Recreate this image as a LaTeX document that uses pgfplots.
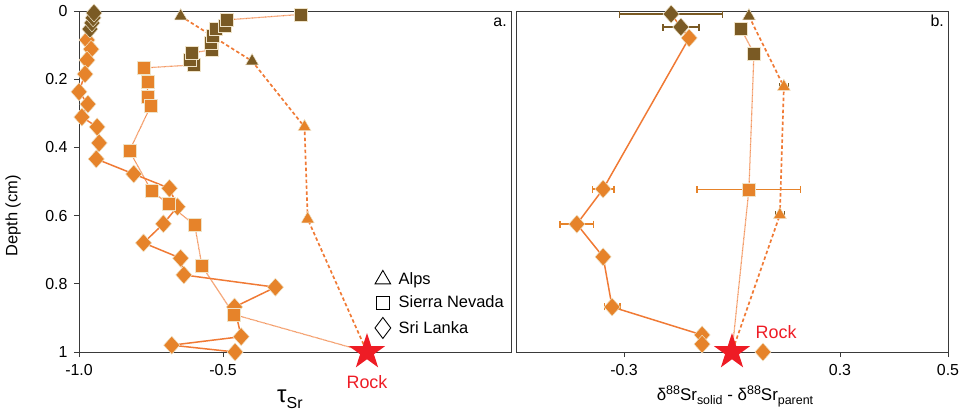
\documentclass[border=0pt]{standalone}
\usepackage{pgfplots}
\pgfplotsset{compat=1.18}
\usepackage{fontspec}
\setmainfont{Liberation Sans}
\definecolor{brn}{HTML}{7A5A24}
\definecolor{org}{HTML}{E6832A}
\definecolor{lin}{HTML}{F07A35}
\definecolor{edge}{HTML}{EFE3C8}
\definecolor{rockred}{HTML}{EE1C25}
\definecolor{axc}{HTML}{3A3A3A}
\pgfdeclareplotmark{fstar}{%
  \pgfpathmoveto{\pgfpointpolar{90}{\pgfplotmarksize}}%
  \pgfpathlineto{\pgfpointpolar{126}{0.382\pgfplotmarksize}}%
  \pgfpathlineto{\pgfpointpolar{162}{\pgfplotmarksize}}%
  \pgfpathlineto{\pgfpointpolar{198}{0.382\pgfplotmarksize}}%
  \pgfpathlineto{\pgfpointpolar{234}{\pgfplotmarksize}}%
  \pgfpathlineto{\pgfpointpolar{270}{0.382\pgfplotmarksize}}%
  \pgfpathlineto{\pgfpointpolar{306}{\pgfplotmarksize}}%
  \pgfpathlineto{\pgfpointpolar{342}{0.382\pgfplotmarksize}}%
  \pgfpathlineto{\pgfpointpolar{18}{\pgfplotmarksize}}%
  \pgfpathlineto{\pgfpointpolar{54}{0.382\pgfplotmarksize}}%
  \pgfpathclose
  \pgfusepathqfill
}
\pgfplotsset{
  panel/.style={
    scale only axis, width=432bp, height=341bp,
    ymin=0, ymax=1, y dir=reverse, clip=false,
    axis line style={axc, line width=0.9pt},
    tick align=outside, major tick length=5bp,
    every tick/.append style={axc, line width=0.8pt},
    tick label style={font=\fontsize{16}{18}\selectfont},
    /pgf/number format/assume math mode=true,
    xticklabel style={yshift=-4bp},
  },
  lA/.style={no markers, lin, line width=1.7pt, dash pattern=on 3.5pt off 2.5pt, forget plot},
  lS/.style={no markers, lin!85!white, line width=1.2pt, dash pattern=on 0.7pt off 0.5pt, forget plot},
  lL/.style={no markers, lin, line width=1.5pt, forget plot},
  mB/.style={only marks, forget plot, mark options={fill=brn, draw=edge, line width=0.5pt, #1}},
  mB/.default={},
  mO/.style={only marks, forget plot, mark options={fill=org, draw=edge, line width=0.5pt, #1}},
  mO/.default={},
  tri/.style={mark=triangle*, mark size=7.5bp},
  sq/.style={mark=square*, mark size=6.5bp},
  dia/.style={mark=diamond*, mark size=9bp},
  rockstar/.style={only marks, forget plot, mark=fstar, mark size=19bp, color=rockred},
  eb/.style={error bars/.cd, x dir=both, x explicit, error mark=|,
    error bar style={#1, line width=1.3pt},
    error mark options={#1, mark size=3.5bp, line width=1.3pt}},
}
\begin{document}
\begin{tikzpicture}
\path[use as bounding box] (0bp,0bp) rectangle (962bp,412bp);
% ---------------- panel a ----------------
\begin{axis}[panel, at={(79bp,60bp)}, anchor=south west,
  xmin=-1, xmax=0.5, xtick={-1,-0.5}, xticklabels={-1.0,-0.5},
  ytick={0,0.2,0.4,0.6,0.8,1}, yticklabel style={xshift=-3bp},
  tick pos=left,
  legend style={draw=none, fill=none, at={(axis cs:0.027,0.76)}, anchor=north west,
    font=\fontsize{16.5}{18}\selectfont, row sep=6bp, inner sep=0pt,
    /tikz/every odd column/.append style={column sep=6bp}},
  legend cell align=left,
]
\addlegendimage{only marks, mark=triangle, mark size=9bp, black, line width=0.9pt}
\addlegendentry{Alps}
\addlegendimage{only marks, mark=square, mark size=6.5bp, black, line width=0.9pt}
\addlegendentry{Sierra Nevada}
\addlegendimage{only marks, mark=diamond, mark size=10.5bp, black, line width=0.9pt}
\addlegendentry{Sri Lanka}
% lines
\addplot[lA] coordinates {(-0.647,0.015) (-0.399,0.147) (-0.217,0.34) (-0.206,0.61) (0,1)};
\addplot[lS] coordinates {(-0.231,0.01) (-0.486,0.026) (-0.493,0.044) (-0.524,0.053) (-0.535,0.073)
  (-0.542,0.094) (-0.54,0.114) (-0.608,0.123) (-0.615,0.144) (-0.60,0.158) (-0.776,0.167)
  (-0.762,0.208) (-0.762,0.252) (-0.751,0.279) (-0.825,0.41) (-0.748,0.528) (-0.689,0.566)
  (-0.598,0.628) (-0.573,0.748) (-0.462,0.89) (0,1)};
\addplot[lL] coordinates {(-0.948,0.006) (-0.951,0.02) (-0.955,0.035) (-0.962,0.053) (-0.972,0.085)
  (-0.958,0.112) (-0.972,0.144) (-0.979,0.185) (-1.0,0.237) (-0.969,0.273) (-0.99,0.311)
  (-0.937,0.34) (-0.93,0.387) (-0.94,0.434) (-0.81,0.478) (-0.686,0.52) (-0.658,0.574)
  (-0.707,0.624) (-0.776,0.68) (-0.647,0.725) (-0.636,0.774) (-0.318,0.81) (-0.46,0.868)
  (-0.437,0.955) (-0.678,0.98) (-0.458,1.0)};
% Sri Lanka marks
\addplot[mO={xscale=1.2}, dia] coordinates {(-0.972,0.085)
  (-0.958,0.112) (-0.972,0.144) (-0.979,0.185) (-1.0,0.237) (-0.969,0.273) (-0.99,0.311)
  (-0.937,0.34) (-0.93,0.387) (-0.94,0.434) (-0.81,0.478) (-0.686,0.52) (-0.658,0.574)
  (-0.707,0.624) (-0.776,0.68) (-0.647,0.725) (-0.636,0.774) (-0.318,0.81) (-0.46,0.868)
  (-0.437,0.955) (-0.678,0.98) (-0.458,1.0)};
\addplot[mB={xscale=1.2}, dia] coordinates {(-0.962,0.053) (-0.955,0.035) (-0.951,0.02) (-0.948,0.006)};
% Sierra Nevada marks
\addplot[mO, sq] coordinates {(-0.776,0.167) (-0.762,0.208) (-0.762,0.252) (-0.751,0.279)
  (-0.825,0.41) (-0.748,0.528) (-0.689,0.566) (-0.598,0.628) (-0.573,0.748) (-0.462,0.89)};
\addplot[mB, sq] coordinates {(-0.60,0.158) (-0.615,0.144) (-0.608,0.123) (-0.54,0.114)
  (-0.542,0.094) (-0.535,0.073) (-0.524,0.053) (-0.493,0.044) (-0.486,0.026) (-0.231,0.01)};
% Alps marks
\addplot[mB, tri] coordinates {(-0.647,0.015) (-0.399,0.147)};
\addplot[mO, tri] coordinates {(-0.217,0.34) (-0.206,0.61)};
\addplot[rockstar] coordinates {(0,1)};
\node[anchor=base, rockred, font=\fontsize{18}{20}\selectfont] at (axis cs:0,1.106) {Rock};
\node[anchor=base east, inner sep=0pt, font=\fontsize{16}{18}\selectfont] at (axis cs:0.486,0.044) {a.};
\end{axis}
% ---------------- panel b ----------------
\begin{axis}[panel, at={(516bp,60bp)}, anchor=south west,
  xmin=-0.6, xmax=0.6, xtick={-0.3,0.3,0.6}, xticklabels={-0.3,0.3,0.5},
  ytick=\empty, tick pos=left,
]
\addplot[lL] coordinates {(-0.169,0.009) (-0.142,0.047) (-0.119,0.079) (-0.358,0.522)
  (-0.431,0.625) (-0.358,0.721) (-0.333,0.868) (-0.083,0.95) (-0.083,0.977)};
\addplot[lS] coordinates {(0.025,0.053) (0.061,0.124) (0.047,0.523) (0,1)};
\addplot[lA] coordinates {(0.047,0.015) (0.144,0.222) (0.133,0.598) (0,1)};
% Sri Lanka
\addplot[mO={xscale=1.2}, dia, eb=org]
  coordinates {(-0.358,0.522) +- (0.03,0) (-0.431,0.625) +- (0.047,0)
  (-0.358,0.721) +- (0.012,0) (-0.333,0.868) +- (0.022,0)};
\addplot[mO={xscale=1.2}, dia] coordinates {(-0.083,0.95) (-0.083,0.977) (0.086,1.0) (-0.119,0.079)};
\addplot[mB={xscale=1.2}, dia, eb=brn]
  coordinates {(-0.142,0.047) +- (0.05,0) (-0.169,0.009) +- (0.143,0)};
% Sierra Nevada
\addplot[mB, sq] coordinates {(0.025,0.053) (0.061,0.124)};
\addplot[mO, sq, eb=org] coordinates {(0.047,0.523) +- (0.144,0)};
% Alps
\addplot[mB, tri] coordinates {(0.047,0.015)};
\addplot[mO, tri, eb=brn]
  coordinates {(0.144,0.222) +- (0.012,0) (0.133,0.598) +- (0.012,0)};
\addplot[rockstar] coordinates {(0,1)};
\node[anchor=base west, rockred, font=\fontsize{18}{20}\selectfont] at (axis cs:0.056,0.959) {Rock};
\node[anchor=base east, inner sep=0pt, font=\fontsize{16}{18}\selectfont] at (axis cs:0.589,0.044) {b.};
\end{axis}
% ---------------- labels ----------------
\node[rotate=90, inner sep=0pt, font=\fontsize{16.5}{18}\selectfont] at (13bp,196bp) {Depth (cm)};
\node[anchor=base west, inner sep=0pt] at (277bp,10bp)
  {\fontsize{24}{26}\selectfont τ\fontsize{16}{18}\selectfont\raisebox{-6bp}{Sr}};
\node[anchor=base, inner sep=0pt, font=\fontsize{17}{19}\selectfont] at (735bp,12bp)
  {δ{\fontsize{12.5}{13}\selectfont\raisebox{6bp}{88}}Sr{\fontsize{12.5}{13}\selectfont\raisebox{-4bp}{solid}} - δ{\fontsize{12.5}{13}\selectfont\raisebox{6bp}{88}}Sr{\fontsize{12.5}{13}\selectfont\raisebox{-4bp}{parent}}};
\end{tikzpicture}
\end{document}
